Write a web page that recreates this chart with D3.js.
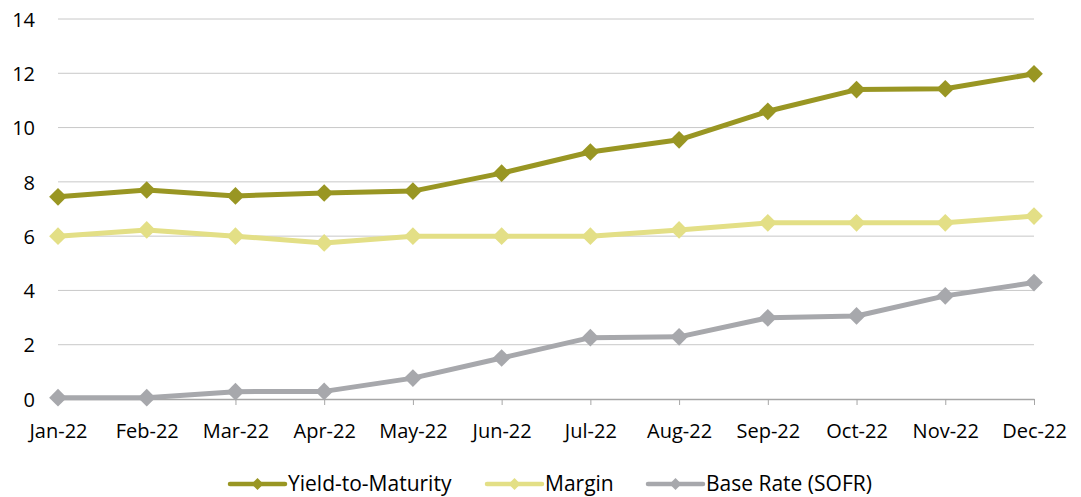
<!DOCTYPE html>
<html lang="en">
<head>
<meta charset="UTF-8">
<script src="https://d3js.org/d3.v7.min.js"></script>
<style>
  body { margin: 0; background: #fff; }
  text { font-family: "Open Sans", sans-serif; fill: #000; }
</style>
</head>
<body>
<script>
// Data
const months = ['Jan-22', 'Feb-22', 'Mar-22', 'Apr-22', 'May-22', 'Jun-22',
                'Jul-22', 'Aug-22', 'Sep-22', 'Oct-22', 'Nov-22', 'Dec-22'];
const yieldToMaturity = [7.45, 7.7, 7.48, 7.59, 7.66, 8.32, 9.1, 9.55, 10.6, 11.4, 11.43, 11.98];
const margin = [6.0, 6.23, 6.0, 5.75, 6.0, 6.0, 6.0, 6.23, 6.49, 6.49, 6.49, 6.74];
const baseRate = [0.05, 0.05, 0.27, 0.28, 0.77, 1.51, 2.26, 2.29, 2.99, 3.06, 3.8, 4.29];
const yTicks = [0, 2, 4, 6, 8, 10, 12, 14];

const series = [
    { name: 'Yield-to-Maturity', values: yieldToMaturity, color: '#999623' },
    { name: 'Margin', values: margin, color: '#e3df86' },
    { name: 'Base Rate (SOFR)', values: baseRate, color: '#a7a8ac' }
];

const W = 1081, H = 497;
const svg = d3.select('body').append('svg')
    .attr('width', W)
    .attr('height', H);

const x = d3.scalePoint()
    .domain(months)
    .range([58, 1034]);

const y = d3.scaleLinear()
    .domain([0, 14])
    .range([399, 19]);

// Gridlines
svg.append('g')
    .selectAll('line')
    .data(yTicks.filter(d => d > 0))
    .enter()
    .append('line')
    .attr('x1', 58)
    .attr('x2', 1034)
    .attr('y1', d => y(d))
    .attr('y2', d => y(d))
    .attr('stroke', '#c8c8c8')
    .attr('stroke-width', 1);

// Y axis labels
const yAxis = svg.append('g')
    .attr('transform', 'translate(35, 0)')
    .call(d3.axisLeft(y).tickValues(yTicks).tickSize(0).tickPadding(0));
yAxis.select('.domain').remove();
yAxis.selectAll('text')
    .attr('font-size', '20px')
    .attr('dy', '0.36em');

// X axis
const xAxis = svg.append('g')
    .attr('transform', 'translate(0, 399)')
    .call(d3.axisBottom(x).tickSize(6).tickPadding(0).tickSizeOuter(0));
xAxis.select('.domain')
    .attr('stroke', '#a6a6a6')
    .attr('stroke-width', 1.5);
xAxis.selectAll('.tick line')
    .attr('stroke', '#a6a6a6');
xAxis.selectAll('text')
    .attr('font-size', '20px')
    .attr('y', 39)
    .attr('dy', null);

const line = d3.line()
    .x((d, i) => x(months[i]))
    .y(d => y(d));

const diamond = d3.symbol().type(d3.symbolDiamond2).size(200);

// Lines and markers, drawn bottom series first
series.slice().reverse().forEach(function (s) {
    svg.append('path')
        .datum(s.values)
        .attr('d', line)
        .attr('fill', 'none')
        .attr('stroke', s.color)
        .attr('stroke-width', 5)
        .attr('stroke-linejoin', 'round');

    svg.append('g')
        .selectAll('path')
        .data(s.values)
        .enter()
        .append('path')
        .attr('d', diamond)
        .attr('transform', (d, i) => `translate(${x(months[i])}, ${y(d)})`)
        .attr('fill', s.color);
});

// Legend
const legendX = [230, 487, 648];
const legend = svg.append('g')
    .selectAll('g')
    .data(series)
    .enter()
    .append('g')
    .attr('transform', (d, i) => `translate(${legendX[i]}, 484)`);

legend.append('line')
    .attr('x1', 0)
    .attr('x2', 55)
    .attr('stroke', d => d.color)
    .attr('stroke-width', 4.5)
    .attr('stroke-linecap', 'round');

legend.append('path')
    .attr('d', d3.symbol().type(d3.symbolDiamond2).size(90))
    .attr('transform', 'translate(27.5, 0)')
    .attr('fill', d => d.color);

legend.append('text')
    .attr('x', 58)
    .attr('y', 7)
    .attr('font-size', '21px')
    .text(d => d.name);
</script>
</body>
</html>
